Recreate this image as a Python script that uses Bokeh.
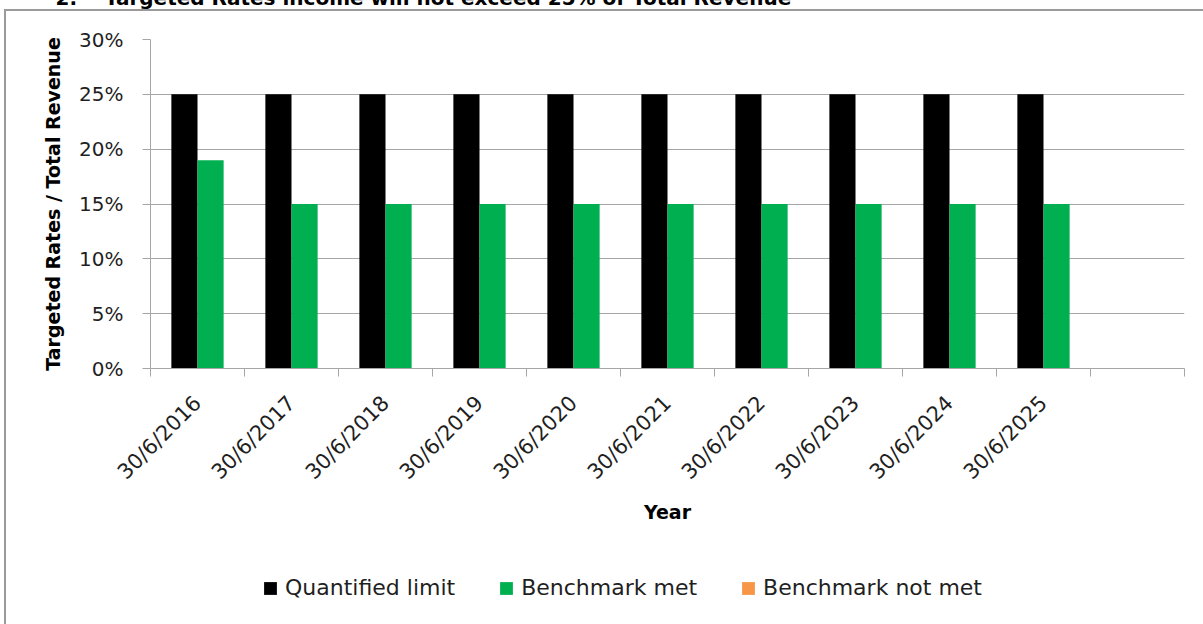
import math
from bokeh.plotting import figure
from bokeh.models import (ColumnDataSource, Range1d, FixedTicker, PrintfTickFormatter,
                          Legend, LegendItem, Title)
from bokeh.embed import file_html
from bokeh.resources import INLINE

# ---- data -------------------------------------------------------------
years = ["30/6/2016", "30/6/2017", "30/6/2018", "30/6/2019", "30/6/2020",
         "30/6/2021", "30/6/2022", "30/6/2023", "30/6/2024", "30/6/2025"]
quantified_limit = [25, 25, 25, 25, 25, 25, 25, 25, 25, 25]
benchmark_met = [19, 15, 15, 15, 15, 15, 15, 15, 15, 15]
benchmark_not_met = [float("nan")] * 10
n_slots = 11  # the category axis carries one trailing empty slot
heading = "2.\u00a0\u00a0\u00a0\u00a0Targeted Rates income will not exceed 25% of Total Revenue"
series_names = ["Quantified limit", "Benchmark met", "Benchmark not met"]
series_colors = ["#000000", "#00B050", "#F79646"]

FONT = "DejaVu Sans"
GRID = "#A6A6A6"
TEXT = "#1f1f1f"
SHIFT = 45  # canvas is raised so the heading sits partly above the page top

centers = [i + 0.5 for i in range(len(years))]
src = ColumnDataSource(dict(
    x_limit=[c - 0.139 for c in centers],
    x_met=[c + 0.139 for c in centers],
    limit=quantified_limit,
    met=benchmark_met,
    notmet=benchmark_not_met,
))

p = figure(width=1203, height=624 + SHIFT, output_backend="svg", toolbar_location=None,
           x_range=Range1d(0, n_slots), y_range=Range1d(0, 30),
           min_border_left=150, min_border_right=19, min_border_top=39 + SHIFT,
           min_border_bottom=256)
p.outline_line_color = None
p.background_fill_color = "white"
p.border_fill_color = None
# grey left/top edge of the chart box, drawn behind the transparent canvas border
p.styles = {
    "position": "relative",
    "top": f"-{SHIFT}px",
    "box-shadow": f"inset 4px {9 + SHIFT}px 0 0 #FFFFFF, inset 6px {11 + SHIFT}px 0 0 #9A9A9A",
}

p.vbar(x="x_limit", top="limit", width=0.278, source=src,
       fill_color=series_colors[0], line_color=None)
p.vbar(x="x_met", top="met", width=0.278, source=src,
       fill_color=series_colors[1], line_color=None)
p.vbar(x="x_met", top="notmet", width=0.278, source=src,
       fill_color=series_colors[2], line_color=None)

# ---- axes -------------------------------------------------------------
xa = p.xaxis[0]
xa.ticker = FixedTicker(ticks=centers, minor_ticks=list(range(n_slots + 1)))
xa.major_label_overrides = {c: y for c, y in zip(centers, years)}
xa.major_label_orientation = math.pi / 4
xa.major_tick_out = 0
xa.major_tick_in = 0
xa.minor_tick_out = 8
xa.minor_tick_in = 0
xa.minor_tick_line_color = GRID
xa.axis_line_color = GRID
xa.major_label_standoff = 23
xa.major_label_text_font = FONT
xa.major_label_text_font_size = "21px"
xa.major_label_text_color = TEXT
xa.axis_label = "Year"
xa.axis_label_text_font = FONT
xa.axis_label_text_font_size = "19px"
xa.axis_label_text_font_style = "bold"
xa.axis_label_text_color = "#000000"
xa.axis_label_standoff = 5

ya = p.yaxis[0]
ya.ticker = FixedTicker(ticks=[0, 5, 10, 15, 20, 25, 30])
ya.formatter = PrintfTickFormatter(format="%d%%")
ya.major_tick_out = 8
ya.major_tick_in = 0
ya.minor_tick_out = 0
ya.minor_tick_in = 0
ya.major_tick_line_color = GRID
ya.axis_line_color = GRID
ya.major_label_standoff = 19
ya.major_label_text_font = FONT
ya.major_label_text_font_size = "20px"
ya.major_label_text_color = TEXT
ya.axis_label = "Targeted Rates / Total Revenue"
ya.axis_label_text_font = FONT
ya.axis_label_text_font_size = "19px"
ya.axis_label_text_font_style = "bold"
ya.axis_label_text_color = "#000000"
ya.axis_label_standoff = 12

p.xgrid.grid_line_color = None
p.ygrid.grid_line_color = GRID
p.ygrid.grid_line_width = 1

# ---- heading above the chart box ----------------------------------------
p.add_layout(Title(text=heading, align="left", offset=-95, vertical_align="top",
                   standoff=56, text_font=FONT, text_font_size="20px",
                   text_font_style="bold", text_color="#000000"), "above")

# ---- legend strip, laid over the bottom of the chart box ------------------
key = figure(width=780, height=30, output_backend="svg", toolbar_location=None,
             x_range=Range1d(0, 1), y_range=Range1d(0, 1),
             x_axis_location=None, y_axis_location=None, min_border=0)
key.grid.visible = False
key.outline_line_color = None
key.background_fill_color = None
key.border_fill_color = None
key.styles = {"position": "absolute", "left": "262px", "top": "575px"}
# zero-height swatch bars: only their colours are used, by the legend
swatch = ColumnDataSource(dict(x=[0.5], top=[0]))
items = []
for name, color in zip(series_names, series_colors):
    r = key.vbar(x="x", top="top", width=0.01, source=swatch,
                 fill_color=color, line_color=None)
    items.append(LegendItem(label=name, renderers=[r]))
legend = Legend(items=items, orientation="horizontal", location="top_left",
                glyph_width=16, glyph_height=16, label_standoff=7, spacing=43,
                padding=0, margin=0, border_line_color=None, background_fill_alpha=0,
                label_text_font=FONT, label_text_font_size="22px",
                label_text_color=TEXT)
key.add_layout(legend, "center")

open("out.html", "w").write(file_html([p, key], INLINE))
